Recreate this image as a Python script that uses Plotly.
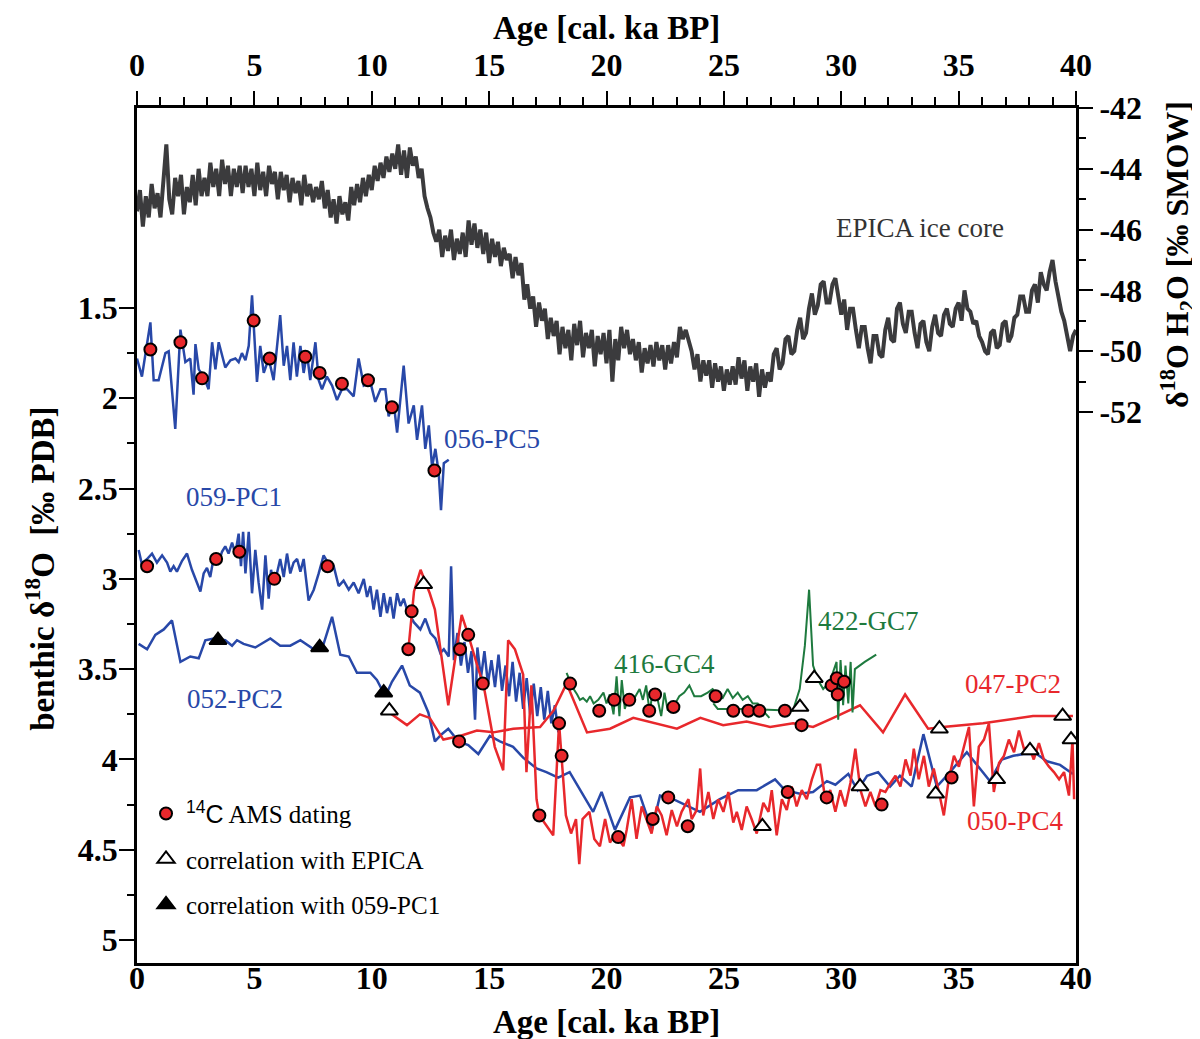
import plotly.graph_objects as go

FONT = "Liberation Serif"
BLUE = "#2848a8"
RED = "#e8282c"
GREEN = "#1e7a3e"
GREY = "#3b3b3d"

# ---------------- EPICA ice core (d18O H2O, right axis) ----------------
epica_age = [
    0.0, 0.125, 0.25, 0.375, 0.5, 0.625, 0.75, 0.875, 1.0, 1.125, 1.25, 1.375, 1.5, 1.625, 1.75, 1.875,
    2.0, 2.125, 2.25, 2.375, 2.5, 2.625, 2.75, 2.875, 3.0, 3.125, 3.25, 3.375, 3.5, 3.625, 3.75, 3.875,
    4.0, 4.125, 4.25, 4.375, 4.5, 4.625, 4.75, 4.875, 5.0, 5.125, 5.25, 5.375, 5.5, 5.625, 5.75, 5.875,
    6.0, 6.125, 6.25, 6.375, 6.5, 6.625, 6.75, 6.875, 7.0, 7.125, 7.25, 7.375, 7.5, 7.625, 7.75, 7.875,
    8.0, 8.125, 8.25, 8.375, 8.5, 8.625, 8.75, 8.875, 9.0, 9.125, 9.25, 9.375, 9.5, 9.625, 9.75, 9.875,
    10.0, 10.125, 10.25, 10.375, 10.5, 10.625, 10.75, 10.875, 11.0, 11.125, 11.25, 11.375, 11.5, 11.625, 11.75, 11.875,
    12.0, 12.125, 12.25, 12.375, 12.5, 12.625, 12.75, 12.875, 13.0, 13.125, 13.25, 13.375, 13.5, 13.625, 13.75, 13.875,
    14.0, 14.125, 14.25, 14.375, 14.5, 14.625, 14.75, 14.875, 15.0, 15.125, 15.25, 15.375, 15.5, 15.625, 15.75, 15.875,
    16.0, 16.125, 16.25, 16.375, 16.5, 16.625, 16.75, 16.875, 17.0, 17.125, 17.25, 17.375, 17.5, 17.625, 17.75, 17.875,
    18.0, 18.125, 18.25, 18.375, 18.5, 18.625, 18.75, 18.875, 19.0, 19.125, 19.25, 19.375, 19.5, 19.625, 19.75, 19.875,
    20.0, 20.125, 20.25, 20.375, 20.5, 20.625, 20.75, 20.875, 21.0, 21.125, 21.25, 21.375, 21.5, 21.625, 21.75, 21.875,
    22.0, 22.125, 22.25, 22.375, 22.5, 22.625, 22.75, 22.875, 23.0, 23.125, 23.25, 23.375, 23.5, 23.625, 23.75, 23.875,
    24.0, 24.125, 24.25, 24.375, 24.5, 24.625, 24.75, 24.875, 25.0, 25.125, 25.25, 25.375, 25.5, 25.625, 25.75, 25.875,
    26.0, 26.125, 26.25, 26.375, 26.5, 26.625, 26.75, 26.875, 27.0, 27.125, 27.25, 27.375, 27.5, 27.625, 27.75, 27.875,
    28.0, 28.125, 28.25, 28.375, 28.5, 28.625, 28.75, 28.875, 29.0, 29.125, 29.25, 29.375, 29.5, 29.625, 29.75, 29.875,
    30.0, 30.125, 30.25, 30.375, 30.5, 30.625, 30.75, 30.875, 31.0, 31.125, 31.25, 31.375, 31.5, 31.625, 31.75, 31.875,
    32.0, 32.125, 32.25, 32.375, 32.5, 32.625, 32.75, 32.875, 33.0, 33.125, 33.25, 33.375, 33.5, 33.625, 33.75, 33.875,
    34.0, 34.125, 34.25, 34.375, 34.5, 34.625, 34.75, 34.875, 35.0, 35.125, 35.25, 35.375, 35.5, 35.625, 35.75, 35.875,
    36.0, 36.125, 36.25, 36.375, 36.5, 36.625, 36.75, 36.875, 37.0, 37.125, 37.25, 37.375, 37.5, 37.625, 37.75, 37.875,
    38.0, 38.125, 38.25, 38.375, 38.5, 38.625, 38.75, 38.875, 39.0, 39.125, 39.25, 39.375, 39.5, 39.625, 39.75, 39.875,
    40.0]
epica_d18o = [
    -45.4, -44.7, -45.9, -44.9, -45.6, -44.5, -45.3, -44.8, -45.6, -44.4, -43.2, -45.0, -45.5, -44.3, -44.9, -44.2,
    -45.5, -44.6, -45.1, -44.2, -45.2, -44.0, -44.9, -44.3, -44.9, -43.8, -44.6, -44.0, -44.9, -43.7, -44.5, -43.9,
    -44.9, -44.0, -44.6, -43.9, -44.8, -43.9, -44.6, -44.0, -44.9, -43.8, -44.7, -44.1, -44.9, -43.9, -44.5, -44.1,
    -45.0, -44.1, -44.7, -44.2, -45.1, -44.3, -44.8, -44.4, -45.2, -44.2, -44.9, -44.5, -45.1, -44.6, -45.0, -44.4,
    -45.3, -44.7, -45.6, -45.0, -45.8, -44.9, -45.5, -45.1, -45.7, -44.6, -45.2, -44.5, -45.1, -44.3, -44.9, -44.2,
    -44.7, -43.9, -44.4, -43.8, -44.3, -43.6, -44.1, -43.5, -44.0, -43.2, -44.2, -43.4, -44.3, -43.3, -43.9, -43.6,
    -44.3, -44.0, -44.9, -45.3, -45.6, -46.1, -46.4, -46.0, -46.9, -46.2, -46.7, -46.0, -47.0, -46.3, -46.8, -46.1,
    -46.9, -45.7, -46.5, -45.8, -46.6, -46.0, -46.8, -46.1, -47.1, -46.3, -46.9, -46.4, -47.2, -46.6, -47.0, -46.8,
    -47.6, -46.9, -47.5, -47.1, -48.3, -47.8, -48.6, -48.2, -49.2, -48.4, -49.0, -48.6, -49.6, -48.9, -49.5, -49.0,
    -50.1, -49.2, -49.9, -49.3, -50.3, -49.1, -49.8, -49.0, -50.2, -49.4, -49.9, -49.3, -50.5, -49.5, -50.1, -49.4,
    -50.4, -49.3, -51.0, -49.6, -50.3, -49.2, -49.9, -49.3, -50.1, -49.6, -50.3, -49.7, -50.7, -49.9, -50.4, -49.8,
    -50.5, -49.7, -50.3, -49.8, -50.6, -49.8, -50.4, -49.7, -50.2, -49.2, -49.6, -49.3, -49.7, -50.0, -50.6, -50.1,
    -51.0, -50.3, -50.8, -50.3, -51.2, -50.4, -51.0, -50.5, -51.3, -50.6, -51.1, -50.5, -51.1, -50.2, -50.9, -50.3,
    -51.3, -50.5, -51.0, -50.4, -51.5, -50.6, -51.2, -50.7, -51.0, -50.1, -49.9, -50.6, -50.4, -49.6, -49.5, -50.1,
    -50.0, -49.3, -48.9, -49.6, -49.4, -48.6, -48.1, -48.8, -48.5, -47.8, -47.7, -48.4, -48.4, -47.8, -47.6, -48.3,
    -48.8, -48.3, -49.3, -48.6, -48.6, -49.3, -49.9, -49.2, -49.2, -49.9, -50.4, -49.5, -49.5, -50.1, -50.2, -49.3,
    -48.9, -49.6, -49.7, -48.6, -48.4, -49.1, -49.4, -48.7, -48.7, -49.4, -49.9, -49.1, -49.0, -49.7, -50.0, -49.2,
    -48.8, -49.4, -49.5, -48.8, -48.6, -49.1, -49.2, -48.6, -48.4, -49.0, -48.0, -48.6, -48.7, -49.1, -49.0, -49.5,
    -49.7, -50.0, -50.1, -49.4, -49.3, -49.9, -49.8, -49.1, -49.0, -49.7, -49.5, -48.9, -48.8, -48.2, -48.2, -48.7,
    -48.7, -48.0, -47.8, -48.4, -47.4, -47.8, -48.0, -47.4, -47.0, -47.7, -48.2, -48.7, -49.0, -49.6, -50.0, -49.5,
    -49.3]

# ---------------- 056-PC5 ----------------
pc5_age = [0.0, 0.21, 0.57, 0.71, 0.92, 1.21, 1.35, 1.63, 1.85, 2.06, 2.27, 2.41, 2.49, 2.63, 2.84, 3.05,
           3.2, 3.34, 3.48, 3.76, 3.98, 4.19, 4.33, 4.47, 4.62, 4.76, 4.9, 5.04, 5.11, 5.25, 5.4, 5.61,
           5.82, 6.1, 6.25, 6.39, 6.53, 6.67, 6.81, 6.96, 7.1, 7.24, 7.38, 7.6, 7.74, 7.88, 8.09, 8.31,
           8.52, 8.73, 8.95, 9.23, 9.44, 9.66, 9.94, 10.15, 10.37, 10.58, 10.72, 10.93, 11.08, 11.36, 11.57, 11.79,
           11.93, 12.14, 12.28, 12.43, 12.57, 12.71, 12.85, 12.95, 13.07, 13.28]
pc5_d18o = [1.78, 1.88, 1.58, 1.90, 1.90, 1.75, 1.74, 2.17, 1.62, 1.80, 1.78, 1.98, 1.70, 1.84, 1.88, 1.95,
            1.69, 1.84, 1.69, 1.83, 1.79, 1.78, 1.80, 1.75, 1.79, 1.71, 1.43, 1.71, 1.91, 1.71, 1.86, 1.78,
            1.90, 1.54, 1.82, 1.71, 1.90, 1.69, 1.88, 1.71, 1.86, 1.75, 1.90, 1.69, 1.90, 1.95, 1.88, 1.93,
            2.01, 1.95, 1.95, 1.99, 1.78, 1.93, 1.91, 2.02, 1.95, 1.95, 2.10, 2.02, 2.19, 1.82, 2.14, 2.04,
            2.23, 2.04, 2.28, 2.15, 2.38, 2.28, 2.41, 2.62, 2.36, 2.34]

# ---------------- 059-PC1 ----------------
pc1_age = [0.07, 0.21, 0.43, 0.64, 0.85, 1.07, 1.28, 1.42, 1.56, 1.7, 1.92, 2.13, 2.34, 2.7, 2.84, 2.98,
           3.12, 3.27, 3.48, 3.62, 3.76, 3.9, 4.05, 4.19, 4.33, 4.43, 4.52, 4.62, 4.76, 4.9, 5.04, 5.18,
           5.33, 5.47, 5.61, 5.71, 5.82, 5.96, 6.1, 6.25, 6.39, 6.53, 6.67, 6.82, 6.96, 7.1, 7.31, 7.53,
           7.74, 7.95, 8.17, 8.38, 8.59, 8.8, 9.02, 9.23, 9.44, 9.66, 9.8, 9.94, 10.08, 10.22, 10.37, 10.51,
           10.65, 10.79, 10.93, 11.08, 11.22, 11.36, 11.5, 11.79, 12.07, 12.28, 12.5, 12.71, 12.92, 13.07, 13.28, 13.38,
           13.5, 13.65, 13.8, 13.95, 14.1, 14.25, 14.4, 14.5, 14.65, 14.8, 14.95, 15.1, 15.25, 15.4, 15.55, 15.7,
           15.85, 16.0, 16.15, 16.3, 16.45, 16.6, 16.75, 16.9, 17.05, 17.2, 17.35, 17.5, 17.65, 17.8, 17.95]
pc1_d18o = [2.84, 2.92, 2.89, 2.86, 2.91, 2.87, 2.91, 2.96, 2.93, 2.96, 2.90, 2.86, 2.95, 3.07, 2.97, 2.94,
            2.99, 2.88, 2.91, 2.85, 2.82, 2.86, 2.80, 2.86, 2.75, 2.93, 2.74, 2.97, 2.74, 3.08, 2.84, 3.02,
            3.17, 2.87, 3.11, 2.95, 3.02, 2.97, 2.89, 2.99, 2.86, 2.97, 2.91, 2.89, 2.96, 2.89, 3.12, 3.06,
            2.97, 2.87, 2.92, 2.93, 3.04, 3.01, 3.06, 3.02, 3.08, 3.00, 3.10, 3.04, 3.17, 3.06, 3.21, 3.08,
            3.19, 3.10, 3.22, 3.08, 3.15, 3.11, 3.17, 3.24, 3.28, 3.22, 3.30, 3.33, 3.41, 3.39, 3.43, 2.93,
            3.45, 3.30, 3.48, 3.35, 3.52, 3.40, 3.78, 3.38, 3.55, 3.40, 3.58, 3.45, 3.60, 3.42, 3.62, 3.48,
            3.65, 3.46, 3.68, 3.52, 3.72, 3.55, 3.75, 3.58, 3.76, 3.60, 3.78, 3.62, 3.80, 3.70, 3.85]

# ---------------- 052-PC2 ----------------
pc2_age = [0.07, 0.43, 0.78, 1.14, 1.49, 1.85, 2.27, 2.63, 2.91, 3.27, 3.76, 4.05, 4.26, 4.54, 5.04, 5.68,
           6.1, 6.53, 6.96, 7.53, 7.95, 8.31, 8.66, 9.02, 9.37, 9.94, 10.22, 10.58, 10.86, 11.29, 11.62, 12.05,
           12.41, 12.69, 12.98, 13.26, 13.69, 14.11, 14.54, 15.03, 15.46, 16.02, 16.45, 17.02, 17.44, 17.94, 18.43, 18.93,
           19.43, 19.79, 20.36, 21.0, 21.43, 21.93, 22.28, 22.84, 23.98, 24.83, 25.61, 26.4, 27.18, 27.6, 28.24, 28.8,
           29.39, 29.75, 30.3, 30.7, 31.1, 31.57, 32.08, 32.5, 33.0, 33.5, 34.07, 34.5, 35.35, 36.33, 36.84, 37.33,
           37.76, 38.33, 38.76, 39.32, 39.87]
pc2_d18o = [3.36, 3.39, 3.31, 3.28, 3.23, 3.46, 3.43, 3.44, 3.34, 3.33, 3.34, 3.37, 3.34, 3.36, 3.38, 3.33,
            3.37, 3.37, 3.34, 3.39, 3.36, 3.21, 3.42, 3.43, 3.52, 3.52, 3.56, 3.65, 3.57, 3.48, 3.59, 3.63,
            3.74, 3.90, 3.86, 3.83, 3.90, 3.92, 3.97, 3.87, 3.90, 3.93, 3.99, 4.05, 4.07, 4.10, 4.07, 4.18,
            4.29, 4.18, 4.39, 4.21, 4.20, 4.39, 4.20, 4.22, 4.29, 4.22, 4.17, 4.17, 4.11, 4.17, 4.19, 4.18,
            4.12, 4.14, 4.08, 4.17, 4.09, 4.07, 4.15, 4.09, 4.15, 3.86, 4.15, 4.09, 3.96, 4.12, 4.00, 3.98,
            3.97, 3.97, 4.01, 4.03, 4.08]

# ---------------- 047-PC2 ----------------
pc047_age = [10.64, 11.5, 12.05, 12.47, 13.05, 13.76, 14.48, 15.19, 16.03, 17.17, 17.74, 18.3, 19.17, 20.15, 21.14, 23.0,
             24.0, 24.97, 25.97, 26.97, 27.95, 28.8, 29.66, 30.8, 31.78, 32.72, 33.7, 34.33, 36.04, 38.17, 39.45, 39.87]
pc047_d18o = [3.73, 3.81, 3.75, 3.77, 3.89, 3.87, 3.84, 3.85, 3.83, 3.82, 3.73, 3.58, 3.85, 3.83, 3.77, 3.83,
              3.77, 3.81, 3.79, 3.82, 3.80, 3.82, 3.77, 3.70, 3.85, 3.64, 3.83, 3.82, 3.80, 3.76, 3.76, 3.76]

# ---------------- 050-PC4 ----------------
pc4_age = [11.56, 11.7, 11.8, 12.08, 12.47, 12.69, 13.26, 13.83, 14.11, 14.54, 14.75, 15.24, 15.6, 15.81, 16.1, 16.45,
           16.59, 16.8, 17.02, 17.14, 17.73, 17.98, 18.09, 18.27, 18.49, 18.7, 18.84, 18.98, 19.27, 19.48,
           19.72, 19.94, 20.15, 20.36, 20.72, 20.86, 21.07, 21.28, 21.5, 21.7, 21.92, 22.14, 22.35, 22.56, 22.78, 23.0,
           23.2, 23.49, 23.63, 23.84, 23.99, 24.12, 24.34, 24.55, 24.76, 24.98, 25.19, 25.4, 25.55, 25.76, 25.97, 26.18,
           26.4, 26.68, 26.9, 27.04, 27.25, 27.47, 27.68, 27.89, 28.1, 28.32, 28.53, 28.75, 28.96, 29.1, 29.32, 29.53,
           29.75, 29.96, 30.17, 30.39, 30.6, 30.82, 31.03, 31.24, 31.46, 31.67, 31.88, 32.1, 32.31, 32.52, 32.74, 32.95,
           33.09, 33.3, 33.52, 33.73, 33.94, 34.16, 34.37, 34.58, 34.8, 35.01, 35.22, 35.44, 35.65, 35.86, 36.08, 36.29,
           36.5, 36.72, 36.93, 37.14, 37.36, 37.57, 37.78, 38.0, 38.2, 38.42, 38.63, 38.85, 39.06, 39.28, 39.49, 39.7,
           39.85, 39.92]
pc4_d18o = [3.39, 3.18, 3.07, 2.95, 3.08, 3.17, 3.70, 3.20, 3.31, 3.50, 3.58, 3.93, 4.06, 3.34, 3.39, 3.53,
            4.07, 3.59, 4.22, 4.31, 4.42, 3.80, 3.98, 4.31, 4.41, 4.33, 4.58, 4.33, 4.29, 4.44,
            4.48, 4.33, 4.46, 4.41, 4.48, 4.39, 4.22, 4.44, 4.26, 4.33, 4.41, 4.26, 4.31, 4.42, 4.28, 4.37,
            4.29, 4.22, 4.33, 4.28, 4.05, 4.31, 4.18, 4.33, 4.22, 4.29, 4.18, 4.35, 4.29, 4.39, 4.26, 4.33,
            4.41, 4.24, 4.29, 4.17, 4.42, 4.22, 4.28, 4.15, 4.26, 4.17, 4.22, 4.11, 4.03, 4.03, 4.22, 4.17,
            4.29, 4.17, 4.26, 4.13, 3.94, 4.17, 4.26, 4.18, 4.26, 4.17, 4.18, 4.13, 4.09, 4.15, 4.00, 4.09,
            3.94, 4.11, 3.98, 4.15, 4.05, 4.18, 4.31, 4.11, 3.98, 4.04, 3.94, 3.82, 4.26, 3.93, 3.89, 3.80,
            4.18, 4.02, 3.98, 3.89, 3.96, 3.84, 3.94, 3.93, 4.00, 3.91, 4.00, 4.04, 4.07, 4.11, 4.07, 4.20,
            3.89, 4.22]

# ---------------- 416-GC4 ----------------
gc4_age = [18.3, 18.55, 18.75, 18.87, 19.0, 19.16, 19.3, 19.45, 19.65, 19.87, 20.0, 20.14, 20.3, 20.43, 20.55, 20.65,
           20.78, 20.92, 21.06, 21.27, 21.41, 21.55, 21.69, 21.84, 21.98, 22.15, 22.33, 22.47, 22.61, 22.76, 22.97, 23.1,
           23.31, 23.53, 23.74, 24.03, 24.31, 24.52, 24.74, 24.95, 25.16, 25.38, 25.59, 25.8, 26.02, 26.23, 26.44, 26.66,
           26.94]
gc4_d18o = [3.52, 3.60, 3.64, 3.67, 3.66, 3.68, 3.65, 3.69, 3.67, 3.63, 3.69, 3.64, 3.75, 3.54, 3.76, 3.56,
            3.72, 3.66, 3.69, 3.64, 3.61, 3.67, 3.59, 3.74, 3.61, 3.65, 3.76, 3.63, 3.73, 3.69, 3.68, 3.65,
            3.63, 3.59, 3.65, 3.65, 3.63, 3.61, 3.64, 3.66, 3.61, 3.66, 3.63, 3.67, 3.65, 3.69, 3.69, 3.73,
            3.77]

# ---------------- 422-GC7 ----------------
gc7_age = [24.55, 24.74, 25.95, 27.37, 27.94, 28.23, 28.45, 28.63, 28.8, 29.01, 29.23, 29.51, 29.8, 29.87, 29.97, 30.08,
           30.18, 30.3, 30.4, 30.48, 30.58, 31.0, 31.49]
gc7_d18o = [3.69, 3.72, 3.72, 3.73, 3.73, 3.61, 3.37, 3.06, 3.48, 3.56, 3.61, 3.57, 3.46, 3.78, 3.45, 3.70,
            3.48, 3.69, 3.46, 3.74, 3.50, 3.46, 3.42]

# ---------------- 14C AMS dating points ----------------
ams_age = [0.57, 1.85, 2.77, 4.97, 5.65, 7.17, 7.78, 8.73, 9.84, 10.86, 12.67,
           0.43, 3.37, 4.36, 5.85, 8.12, 11.70, 11.56, 13.76, 14.11, 14.73, 13.72, 18.45, 17.98, 18.09, 17.14,
           19.69, 20.33, 20.97, 21.82, 22.07, 22.85, 24.65, 25.40, 26.04, 26.51, 27.60, 28.31, 29.59, 29.81, 30.12, 29.85,
           20.50, 21.97, 22.63, 23.46, 27.72, 29.38, 31.72, 34.70]
ams_d18o = [1.73, 1.69, 1.89, 1.57, 1.78, 1.77, 1.86, 1.92, 1.90, 2.05, 2.40,
            2.93, 2.89, 2.85, 3.00, 2.93, 3.18, 3.39, 3.39, 3.31, 3.58, 3.90, 3.58, 3.80, 3.98, 4.31,
            3.73, 3.67, 3.67, 3.73, 3.64, 3.71, 3.65, 3.73, 3.73, 3.73, 3.73, 3.81, 3.59, 3.55, 3.57, 3.64,
            4.43, 4.33, 4.21, 4.37, 4.18, 4.21, 4.25, 4.10]

# ---------------- tie points ----------------
epica_tie_age = [10.75, 12.21, 26.64, 28.24, 28.85, 30.80, 34.02, 34.18, 36.62, 38.04, 39.43, 39.79]
epica_tie_d18o = [3.73, 3.03, 4.37, 3.71, 3.55, 4.15, 4.19, 3.83, 4.11, 3.95, 3.76, 3.89]
pc1_tie_age = [3.45, 7.78, 10.51]
pc1_tie_d18o = [3.34, 3.38, 3.63]

age_ticks = [0, 5, 10, 15, 20, 25, 30, 35, 40]
left_ticks = [1.5, 2, 2.5, 3, 3.5, 4, 4.5, 5]
left_minor = [1.75, 2.25, 2.75, 3.25, 3.75, 4.25, 4.75]
right_ticks = [-42, -44, -46, -48, -50, -52]
right_minor = [-43, -45, -47, -49, -51]

fig = go.Figure()

fig.add_trace(go.Scatter(x=epica_age, y=epica_d18o, xaxis="x2", yaxis="y2", mode="lines",
                         line=dict(color=GREY, width=4), showlegend=False))
for xs, ys, col, w in [(pc5_age, pc5_d18o, BLUE, 2.5), (pc1_age, pc1_d18o, BLUE, 2.5),
                       (pc2_age, pc2_d18o, BLUE, 2.5), (pc047_age, pc047_d18o, RED, 2.5),
                       (pc4_age, pc4_d18o, RED, 2.5), (gc4_age, gc4_d18o, GREEN, 2),
                       (gc7_age, gc7_d18o, GREEN, 2)]:
    fig.add_trace(go.Scatter(x=xs, y=ys, mode="lines", line=dict(color=col, width=w),
                             showlegend=False))

fig.add_trace(go.Scatter(x=ams_age, y=ams_d18o, mode="markers",
                         name='<span style="font-family:Liberation Sans"><sup>14</sup>C</span> AMS dating',
                         legendgroup="a",
                         marker=dict(symbol="circle", size=12, color=RED, line=dict(color="black", width=2))))
fig.add_trace(go.Scatter(x=epica_tie_age, y=epica_tie_d18o, mode="markers",
                         name="correlation with EPICA", legendgroup="b",
                         marker=dict(symbol="triangle-up", size=15, color="white",
                                     line=dict(color="black", width=2))))
fig.add_trace(go.Scatter(x=pc1_tie_age, y=pc1_tie_d18o, mode="markers",
                         name="correlation with 059-PC1", legendgroup="c",
                         marker=dict(symbol="triangle-up", size=15, color="black",
                                     line=dict(color="black", width=2))))

labels = [("056-PC5", 15.12, 2.227, BLUE), ("059-PC1", 4.13, 2.548, BLUE), ("052-PC2", 4.17, 3.667, BLUE),
          ("416-GC4", 22.49, 3.473, GREEN), ("422-GC7", 31.18, 3.235, GREEN),
          ("047-PC2", 37.32, 3.584, RED), ("050-PC4", 37.44, 4.342, RED)]
ann = []
for t, x, y, c in labels:
    ann.append(dict(text=t, x=x, y=y, xref="x", yref="y", showarrow=False,
                    xanchor="center", yanchor="middle",
                    font=dict(family=FONT, size=27, color=c)))
ann.append(dict(text="EPICA ice core", x=33.35, y=-45.95, xref="x", yref="y2", showarrow=False,
                xanchor="center", yanchor="middle",
                font=dict(family=FONT, size=27, color="#333333")))
ann.append(dict(text="benthic δ<sup>18</sup>O  [‰ PDB]", x=-0.1033, y=0.461, xref="paper", yref="paper",
                xanchor="center", yanchor="middle",
                textangle=-90, showarrow=False, font=dict(family=FONT, size=33, color="black", weight="bold")))
ann.append(dict(text="δ<sup>18</sup>O H<sub>2</sub>O [‰ SMOW]", x=1.1076, y=0.828, xref="paper", yref="paper",
                xanchor="center", yanchor="middle",
                textangle=-90, showarrow=False, font=dict(family=FONT, size=32, color="black", weight="bold")))
ann.append(dict(text="Age [cal. ka BP]", x=0.5, y=-0.069, xref="paper", yref="paper", showarrow=False,
                xanchor="center", yanchor="middle",
                font=dict(family=FONT, size=33, color="black", weight="bold")))
ann.append(dict(text="Age [cal. ka BP]", x=0.5, y=1.0936, xref="paper", yref="paper", showarrow=False,
                xanchor="center", yanchor="middle",
                font=dict(family=FONT, size=33, color="black", weight="bold")))

tickfont = dict(family=FONT, size=32, color="black", weight="bold")

fig.update_layout(
    width=1200, height=1039,
    margin=dict(l=129, r=132, t=100, b=84),
    paper_bgcolor="white", plot_bgcolor="white",
    font=dict(family=FONT, color="black"),
    annotations=ann,
    legend=dict(x=0.0096, y=0.2015, xanchor="left", yanchor="top", bgcolor="rgba(0,0,0,0)",
                font=dict(family=FONT, size=25, color="black"), tracegroupgap=10,
                traceorder="grouped"),
    xaxis=dict(range=[0, 40], tickvals=age_ticks, ticktext=[str(v) for v in age_ticks],
               showline=True, linecolor="black", linewidth=2.5, ticks="", showgrid=False,
               zeroline=False, tickfont=tickfont, ticklabelstandoff=-15),
    xaxis2=dict(range=[0, 40], overlaying="x", side="top", anchor="y", tickvals=age_ticks,
                ticktext=[str(v) for v in age_ticks], showline=True, linecolor="black", linewidth=2.5,
                ticks="outside", ticklen=14, tickwidth=2, tickcolor="black", showgrid=False,
                zeroline=False, tickfont=tickfont, ticklabelstandoff=2,
                minor=dict(tick0=0, dtick=1, ticks="outside", ticklen=8, tickwidth=2,
                           tickcolor="black", showgrid=False)),
    yaxis=dict(range=[5.127, 0.393], tickvals=left_ticks, ticktext=[str(v) for v in left_ticks],
               showline=True, mirror=True, linecolor="black", linewidth=2.5, ticks="outside",
               ticklen=15, tickwidth=2, tickcolor="black", showgrid=False, zeroline=False,
               tickfont=tickfont, ticklabelstandoff=-5,
               minor=dict(tickmode="array", tickvals=left_minor, ticks="outside", ticklen=7,
                          tickwidth=2, tickcolor="black", showgrid=False)),
    yaxis2=dict(range=[-70.125, -42], overlaying="y", side="right", anchor="x",
                tickvals=right_ticks, ticktext=[str(v) for v in right_ticks], showline=False,
                ticks="outside", ticklen=16, tickwidth=2, tickcolor="black", showgrid=False,
                zeroline=False, tickfont=tickfont,
                minor=dict(tickmode="array", tickvals=right_minor, ticks="outside", ticklen=9,
                           tickwidth=2, tickcolor="black", showgrid=False)),
)

fig.write_html("out.html")
